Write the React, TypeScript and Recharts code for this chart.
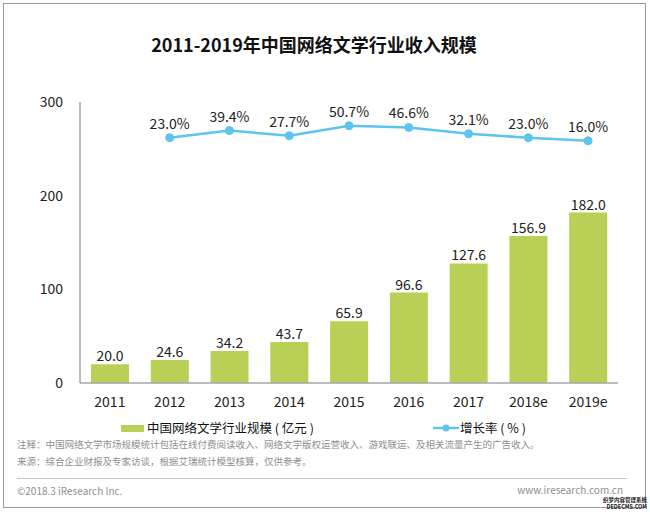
import { ComposedChart, Bar, Line, XAxis, YAxis, LabelList } from 'recharts'

const years = ['2011', '2012', '2013', '2014', '2015', '2016', '2017', '2018e', '2019e']
const revenue = [20.0, 24.6, 34.2, 43.7, 65.9, 96.6, 127.6, 156.9, 182.0]
const growth: (number | null)[] = [null, 23.0, 39.4, 27.7, 50.7, 46.6, 32.1, 23.0, 16.0]
const leftTicks = [0, 100, 200, 300]

const BAR = '#b9d057'
const LINE = '#5bc4ef'
const FONT = '"Noto Sans CJK SC", "Noto Sans", sans-serif'

const data = years.map((y, i) => ({ year: y, revenue: revenue[i], growth: growth[i] }))

export default function App() {
  return (
    <div style={{ position: 'absolute', left: 0, top: 0, width: 650, height: 514, background: '#fff', fontFamily: FONT }}>
      <div style={{ position: 'absolute', left: 3, top: 3, width: 641, height: 503, border: '1px solid #9a9a9a' }} />
      <div style={{ position: 'absolute', left: 0, top: 31, width: 628, textAlign: 'center', fontSize: 18, fontWeight: 700, color: '#111' }}>
        2011-2019年中国网络文学行业收入规模
      </div>
      <div style={{ position: 'absolute', left: 0, top: 0 }}>
        <ComposedChart width={650} height={420} data={data} margin={{ top: 102, right: 32, bottom: 7, left: 0 }}>
          <XAxis
            dataKey="year"
            tick={{ fill: '#222', fontSize: 14, fontFamily: FONT }}
            tickLine={false}
            axisLine={{ stroke: '#a6a6a6', strokeWidth: 1.5 }}
            tickMargin={8}
            height={30}
          />
          <YAxis
            yAxisId="left"
            domain={[0, 300]}
            ticks={leftTicks}
            tick={{ fill: '#222', fontSize: 14, fontFamily: FONT }}
            tickLine={false}
            axisLine={{ stroke: '#a6a6a6', strokeWidth: 1.5 }}
            tickMargin={11}
            width={80}
          />
          <YAxis yAxisId="right" orientation="right" domain={[-540, 105]} hide />
          <Bar yAxisId="left" dataKey="revenue" fill={BAR} barSize={38} isAnimationActive={false}>
            <LabelList
              dataKey="revenue"
              position="top"
              offset={3}
              formatter={(v: number) => v.toFixed(1)}
              style={{ fill: '#222', fontSize: 14, fontFamily: FONT }}
            />
          </Bar>
          <Line
            yAxisId="right"
            dataKey="growth"
            stroke={LINE}
            strokeWidth={2.5}
            dot={{ r: 4, fill: LINE, stroke: LINE, strokeWidth: 1 }}
            isAnimationActive={false}
          >
            <LabelList
              dataKey="growth"
              position="top"
              offset={9}
              formatter={(v: number | null) => (v == null ? '' : `${v.toFixed(1)}%`)}
              style={{ fill: '#222', fontSize: 14, fontFamily: FONT }}
            />
          </Line>
        </ComposedChart>
      </div>
      {/* legend */}
      <div style={{ position: 'absolute', left: 121, top: 420, height: 16, display: 'flex', alignItems: 'center', fontSize: 12.5, lineHeight: '16px', color: '#111', whiteSpace: 'nowrap' }}>
        <span style={{ display: 'inline-block', width: 23, height: 7, background: BAR, marginRight: 3 }} />
        中国网络文学行业规模 ( 亿元 )
      </div>
      <div style={{ position: 'absolute', left: 433, top: 420, height: 16, display: 'flex', alignItems: 'center', fontSize: 12.5, lineHeight: '16px', color: '#111', whiteSpace: 'nowrap' }}>
        <svg width={26} height={10} style={{ marginRight: 1 }}>
          <line x1={0} y1={5} x2={26} y2={5} stroke={LINE} strokeWidth={2.5} />
          <circle cx={13} cy={5} r={3.5} fill={LINE} />
        </svg>
        增长率 ( % )
      </div>
      <div style={{ position: 'absolute', left: 17, top: 439, fontSize: 9.5, lineHeight: '11px', color: '#8f8f8f', whiteSpace: 'nowrap' }}>
        注释：中国网络文学市场规模统计包括在线付费阅读收入、网络文学版权运营收入、游戏联运、及相关流量产生的广告收入。
      </div>
      <div style={{ position: 'absolute', left: 17, top: 456, fontSize: 9.5, lineHeight: '11px', color: '#8f8f8f', whiteSpace: 'nowrap' }}>
        来源：综合企业财报及专家访谈，根据艾瑞统计模型核算，仅供参考。
      </div>
      <div style={{ position: 'absolute', left: 17, top: 478, width: 610, height: 1, background: '#c8c8c8' }} />
      <div style={{ position: 'absolute', left: 17, top: 485, fontSize: 10, lineHeight: '12px', color: '#8f8f8f' }}>©2018.3 iResearch Inc.</div>
      <div style={{ position: 'absolute', right: 27, top: 484, fontSize: 10, lineHeight: '12px', color: '#8f8f8f' }}>www.iresearch.com.cn</div>
      <div style={{ position: 'absolute', right: 3, top: 497, fontSize: 5.5, lineHeight: '6px', color: '#222', textAlign: 'center', fontWeight: 700 }}>
        织梦内容管理系统
      </div>
      <div style={{ position: 'absolute', right: 3, top: 504, fontSize: 5.5, lineHeight: '6px', color: '#222', textAlign: 'center', fontWeight: 700 }}>
        DEDECMS.COM
      </div>
    </div>
  )
}
